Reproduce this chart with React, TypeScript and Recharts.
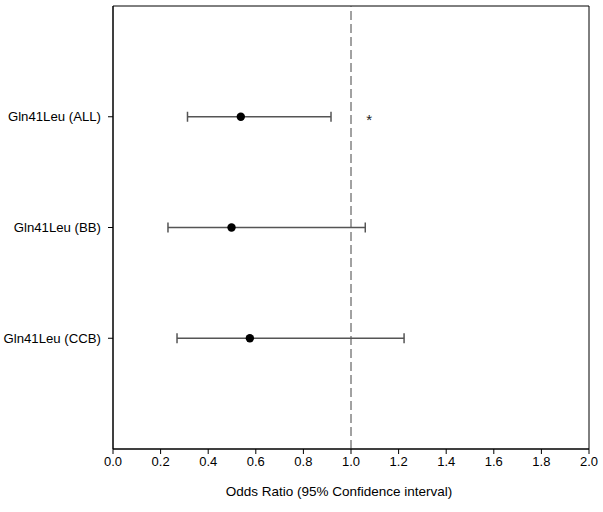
import React from 'react';
import {
  ScatterChart, Scatter, XAxis, YAxis, ErrorBar, ReferenceLine, ReferenceArea,
} from 'recharts';

const groups = ['Gln41Leu (CCB)', 'Gln41Leu (BB)', 'Gln41Leu (ALL)'];
const oddsRatio = [0.575, 0.498, 0.537];
const ciLow = [0.269, 0.231, 0.313];
const ciHigh = [1.223, 1.06, 0.916];
const starGroups = ['Gln41Leu (ALL)'];
const starX = [1.076];
const xTicks = [0, 0.2, 0.4, 0.6, 0.8, 1.0, 1.2, 1.4, 1.6, 1.8, 2.0];

const rows = groups.map((g, i) => ({
  x: oddsRatio[i],
  y: i + 1,
  err: [oddsRatio[i] - ciLow[i], ciHigh[i] - oddsRatio[i]],
}));

const stars = starGroups.map((g, i) => ({ x: starX[i], y: groups.indexOf(g) + 1 }));

const font = '"Liberation Sans", Arial, sans-serif';

const Dot = (props: any) => <circle cx={props.cx} cy={props.cy} r={4.2} fill="#000" />;

const Star = (props: any) => (
  <text x={props.cx} y={props.cy + 8.5} textAnchor="middle" fontSize={15} fontFamily={font} fill="#222">*</text>
);

export default function App() {
  return (
    <div style={{ position: 'absolute', left: 0, top: 0, background: '#fff' }}>
      <ScatterChart width={603} height={512} margin={{ top: 6, right: 14, left: 0, bottom: 0 }}>
        <XAxis
          type="number"
          dataKey="x"
          domain={[0, 2]}
          ticks={xTicks}
          tickFormatter={(v: number) => v.toFixed(1)}
          height={63}
          stroke="#000"
          tickSize={5}
          tickMargin={3}
          tick={{ fontSize: 13, fill: '#000', stroke: 'none', fontFamily: font }}
          label={{ value: 'Odds Ratio (95% Confidence interval)', position: 'insideBottom', offset: 16, dx: -12, fontSize: 13.5, fill: '#000', fontFamily: font }}
        />
        <YAxis
          type="number"
          dataKey="y"
          domain={[0, 4]}
          ticks={[1, 2, 3]}
          tickFormatter={(v: number) => groups[v - 1]}
          width={113}
          stroke="#000"
          tickSize={5}
          tickMargin={7}
          tick={{ fontSize: 13.2, fill: '#000', stroke: 'none', fontFamily: font }}
        />
        <ReferenceArea x1={0} x2={2} y1={0} y2={4} fill="none" stroke="#000" strokeWidth={1} ifOverflow="visible" />
        <ReferenceLine x={1} stroke="#444" strokeDasharray="9 4" />
        <Scatter data={rows} shape={<Dot />} isAnimationActive={false}>
          <ErrorBar dataKey="err" direction="x" width={5} stroke="#555" strokeWidth={1.5} isAnimationActive={false} />
        </Scatter>
        <Scatter data={stars} shape={<Star />} isAnimationActive={false} />
      </ScatterChart>
    </div>
  );
}
